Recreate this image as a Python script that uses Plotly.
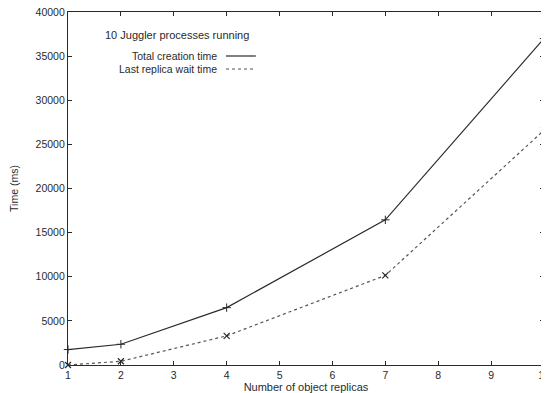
import plotly.graph_objects as go

replicas = [1, 2, 4, 7, 10]
total_creation = [1750, 2350, 6500, 16450, 37000]
last_wait = [0, 420, 3300, 10150, 26600]
x_ticks = [1, 2, 3, 4, 5, 6, 7, 8, 9, 10]
y_ticks = [0, 5000, 10000, 15000, 20000, 25000, 30000, 35000, 40000]
y_tick_text = [str(v) for v in y_ticks]

ink = "#2a2a2a"
font = "Liberation Sans, Arial, sans-serif"

# page body has an 8px margin; compensate
OFF = 8
W, H = 549 - OFF, 393 - OFF
L, R, T, B = 68 - OFF, 5, 12 - OFF, 28

fig = go.Figure()
fig.add_trace(go.Scatter(
    x=replicas, y=total_creation, mode="lines+markers",
    line=dict(color=ink, width=1.2),
    marker=dict(symbol="cross-thin", size=6, line=dict(color=ink, width=1)),
    showlegend=False, cliponaxis=False))
fig.add_trace(go.Scatter(
    x=replicas, y=last_wait, mode="lines+markers",
    line=dict(color="#555555", width=1.2, dash="dot"),
    marker=dict(symbol="x-thin", size=6, line=dict(color=ink, width=1.2)),
    showlegend=False, cliponaxis=False))

fig.update_layout(
    width=W, height=H,
    margin=dict(l=L, r=R, t=T, b=B, autoexpand=False),
    paper_bgcolor="white", plot_bgcolor="white",
    font=dict(family=font, size=10.5, color=ink),
    xaxis=dict(range=[1, 10], tickvals=x_ticks, ticks="inside", ticklen=4,
               tickcolor=ink, showline=True, linecolor=ink, linewidth=1.3,
               mirror="ticks", showgrid=False, zeroline=False, automargin=False,
               ticklabeloverflow="allow",
               title=dict(text="Number of object replicas", standoff=0,
                          font=dict(size=11))),
    yaxis=dict(range=[0, 40000], tickvals=y_ticks, ticktext=y_tick_text,
               ticks="inside", ticklen=4, ticklabeloverflow="allow",
               tickcolor=ink, showline=True, linecolor=ink, linewidth=1.3,
               mirror="ticks", showgrid=False, zeroline=False, automargin=False,
               title=dict(text="Time (ms)", standoff=16, font=dict(size=10.5))),
)

def px_to_paper(px, py):
    px -= OFF
    py -= OFF
    w = W - L - R
    h = H - T - B
    return (px - L) / w, 1 - (py - T) / h

tx, ty = px_to_paper(103, 35)
fig.add_annotation(x=tx, y=ty, xref="paper", yref="paper", xanchor="left",
                   yanchor="middle", text="10 Juggler processes running",
                   showarrow=False, font=dict(size=11))
for label, py, dash, col in [("Total creation time", 56, "solid", ink),
                             ("Last replica wait time", 69, "dot", "#555555")]:
    ax_, ay_ = px_to_paper(219, py)
    fig.add_annotation(x=ax_, y=ay_, xref="paper", yref="paper", xanchor="right",
                       yanchor="middle", text=label, showarrow=False,
                       font=dict(size=10.5))
    x0, y0 = px_to_paper(226, py)
    x1, _ = px_to_paper(256, py)
    fig.add_shape(type="line", xref="paper", yref="paper", x0=x0, x1=x1,
                  y0=y0, y1=y0, line=dict(color=col, width=1.2, dash=dash))

fig.write_html("out.html")
